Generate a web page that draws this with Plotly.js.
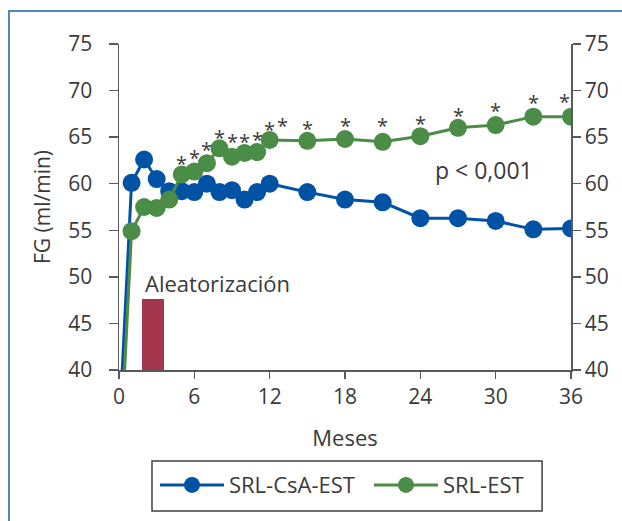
<!DOCTYPE html>
<html>
<head>
<meta charset="utf-8">
<script src="https://cdn.plot.ly/plotly-3.0.1.min.js"></script>
<style>
  html, body { margin: 0; padding: 0; background: #fff; }
  #wrap { position: relative; width: 622px; height: 521px; overflow: hidden; }
  #chart { width: 622px; height: 521px; }
  #frame { position: absolute; left: 8px; top: 10px; width: 700px; height: 600px;
           border-left: 2px solid #4f86c6; border-top: 2px solid #4f86c6; pointer-events: none; }
</style>
</head>
<body>
<div id="wrap">
  <div id="chart"></div>
  <div id="frame"></div>
</div>
<script>
// Data (months, FG ml/min)
const months = [0, 1, 2, 3, 4, 5, 6, 7, 8, 9, 10, 11, 12, 15, 18, 21, 24, 27, 30, 33, 36];
const srlCsaEst = [33, 60.1, 62.6, 60.5, 59.2, 59.2, 59.1, 60.0, 59.1, 59.3, 58.3, 59.1, 60.0, 59.1, 58.3, 58.0, 56.3, 56.3, 56.0, 55.1, 55.2];
const srlEst    = [28, 54.9, 57.5, 57.4, 58.3, 61.0, 61.3, 62.2, 63.8, 62.9, 63.3, 63.4, 64.7, 64.6, 64.8, 64.5, 65.1, 66.0, 66.3, 67.2, 67.2];
const seriesNames = ['SRL-CsA-EST', 'SRL-EST'];

// Significance asterisks (month, label height in ml/min)
const starMonths = [5, 6, 7, 8, 9, 10, 11, 12, 13, 15, 18, 21, 24, 27, 30, 33, 35.5];
const starLevels = [62.7, 63.4, 64.2, 65.5, 65.1, 65.1, 65.3, 66.4, 66.8, 66.5, 66.8, 66.8, 67.0, 67.9, 68.4, 69.3, 69.4];

// Randomization bar
const randMonth = [2.7];
const randLevel = [47.6];
const randLabel = 'Aleatorización';
const pLabel = 'p < 0,001';

const xTicks = [0, 6, 12, 18, 24, 30, 36];
const yTicks = [40, 45, 50, 55, 60, 65, 70, 75];

const BLUE = '#0052a5', GREEN = '#4b8c46', BAR = '#a3354c', AX = '#595959', TXT = '#3a3a3a';
const FONT = 'Open Sans, Noto Sans, sans-serif';

const traces = [
  { type: 'bar', x: randMonth, y: randLevel, width: 1.8, marker: { color: BAR },
    showlegend: false, hoverinfo: 'skip', xaxis: 'x', yaxis: 'y2' },
  { type: 'scatter', mode: 'lines+markers', name: seriesNames[0], x: months, y: srlCsaEst,
    line: { color: BLUE, width: 3 }, marker: { color: BLUE, size: 18 }, legend: 'legend' },
  { type: 'scatter', mode: 'lines+markers', name: seriesNames[1], x: months, y: srlEst,
    line: { color: GREEN, width: 3 }, marker: { color: GREEN, size: 18 }, legend: 'legend2' }
];

const axisCommon = {
  showline: true, linecolor: AX, linewidth: 1.5, ticks: 'outside', tickcolor: AX,
  tickwidth: 1.5, showgrid: false, zeroline: false,
  tickfont: { family: FONT, size: 21, color: TXT }
};

const starNotes = starMonths.map((m, i) => ({
  x: m, y: starLevels[i], xref: 'x', yref: 'y', text: '*', showarrow: false,
  yshift: -5, font: { family: FONT, size: 20, color: TXT }
}));

const legendCommon = {
  orientation: 'h', xanchor: 'left', y: -0.353, yanchor: 'middle',
  borderwidth: 0, bgcolor: 'rgba(0,0,0,0)',
  font: { family: FONT, size: 22, color: TXT }, itemwidth: 64
};

const layout = {
  width: 622, height: 521,
  margin: { l: 119, r: 51, t: 44, b: 151 },
  paper_bgcolor: 'rgba(0,0,0,0)', plot_bgcolor: 'rgba(0,0,0,0)',
  font: { family: FONT, color: TXT },
  bargap: 0,
  xaxis: Object.assign({}, axisCommon, {
    range: [0, 36], tickvals: xTicks, ticklen: 7,
    title: { text: 'Meses', font: { family: FONT, size: 22, color: TXT }, standoff: 22 }
  }),
  yaxis: Object.assign({}, axisCommon, {
    range: [40, 75], tickvals: yTicks, ticklen: 9, ticklabelstandoff: 12,
    title: { text: 'FG (ml/min)', font: { family: FONT, size: 21, color: TXT }, standoff: 12 }
  }),
  yaxis2: Object.assign({}, axisCommon, {
    range: [40, 75], tickvals: yTicks, ticklen: 8, overlaying: 'y', side: 'right', anchor: 'x'
  }),
  legend: Object.assign({}, legendCommon, { x: 0.0796 }),
  legend2: Object.assign({}, legendCommon, { x: 0.553 }),
  shapes: [
    { type: 'rect', xref: 'paper', yref: 'paper', x0: 0.073, x1: 0.936, y0: -0.4325, y1: -0.279,
      line: { color: '#404040', width: 1.5 }, fillcolor: 'rgba(0,0,0,0)' }
  ],
  annotations: [
    { x: 1.9, y: 49.3, xref: 'x', yref: 'y', text: randLabel, showarrow: false, xanchor: 'left',
      yanchor: 'middle', font: { family: FONT, size: 22, color: TXT } },
    { x: 25.0, y: 61.5, xref: 'x', yref: 'y', text: pLabel, showarrow: false, xanchor: 'left',
      yanchor: 'middle', font: { family: FONT, size: 23, color: TXT } }
  ].concat(starNotes),
  showlegend: true
};

Plotly.newPlot('chart', traces, layout, { staticPlot: true, displayModeBar: false });
</script>
</body>
</html>
